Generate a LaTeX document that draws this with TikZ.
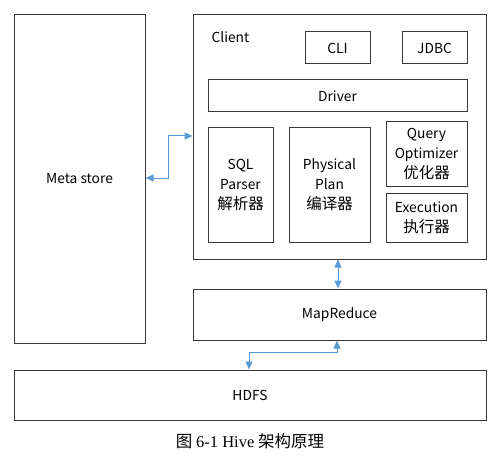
\documentclass[tikz,border=0pt]{standalone}
\usepackage{fontspec}
\setmainfont{Noto Sans CJK SC}
\newfontfamily\capfont{Liberation Serif}
\usetikzlibrary{arrows.meta}
\definecolor{linkblue}{RGB}{91,155,213}
\newcommand{\zhbig}[1]{{\fontsize{15.5}{20}\selectfont #1}}
\begin{document}
\begin{tikzpicture}[x=1pt,y=-1pt,
  box/.style={draw=black!78,line width=1pt,inner sep=0pt,align=center,font=\fontsize{13.8}{20}\selectfont},
  link/.style={draw=linkblue,line width=1pt,{Triangle[length=8pt,width=7pt]}-{Triangle[length=8pt,width=7pt]}}]
\useasboundingbox (0,0) rectangle (502,465);
\node[box,minimum width=131pt,minimum height=328pt] (meta) at (79.5,179) {Meta store};
\node[box,minimum width=293pt,minimum height=244pt] (client) at (339.5,137) {};
\node[anchor=west,font=\fontsize{13.8}{15}\selectfont] (clientlbl) at (208,37) {Client};
\node[box,minimum width=65pt,minimum height=32pt] (cli) at (337.5,48) {CLI};
\node[box,minimum width=65pt,minimum height=32pt] (jdbc) at (434.5,48) {JDBC};
\node[box,minimum width=259pt,minimum height=32pt] (driver) at (337.5,96) {Driver};
\node[box,minimum width=65pt,minimum height=114pt] (sql) at (240.5,185) {SQL\\Parser\\\zhbig{解析器}};
\node[box,minimum width=81pt,minimum height=114pt] (phys) at (329.5,185) {Physical\\Plan\\\zhbig{编译器}};
\node[box,minimum width=81pt,minimum height=64pt] (opt) at (426.5,154) {Query\\Optimizer\\\zhbig{优化器}};
\node[box,minimum width=81pt,minimum height=49pt] (exec) at (426.5,217.5) {Execution\\\zhbig{执行器}};
\node[box,minimum width=293pt,minimum height=51pt] (mr) at (339.5,314.5) {MapReduce};
\node[box,minimum width=472pt,minimum height=50pt] (hdfs) at (250,395) {HDFS};
\node[font=\fontsize{16.5}{18}\selectfont] (cap) at (250,441) {图 {\capfont 6-1 Hive} 架构原理};
\coordinate (m1) at (168,178);
\coordinate (m2) at (168,136);
\draw[link] (meta.east |- m1) -- (m1) -- (m2) -- (client.west |- m2);
\draw[link] (client.south -| 338,0) -- (mr.north -| 338,0);
\coordinate (h1) at (337,352);
\coordinate (h2) at (249,352);
\draw[link] (mr.south -| h1) -- (h1) -- (h2) -- (hdfs.north -| h2);
\end{tikzpicture}
\end{document}
